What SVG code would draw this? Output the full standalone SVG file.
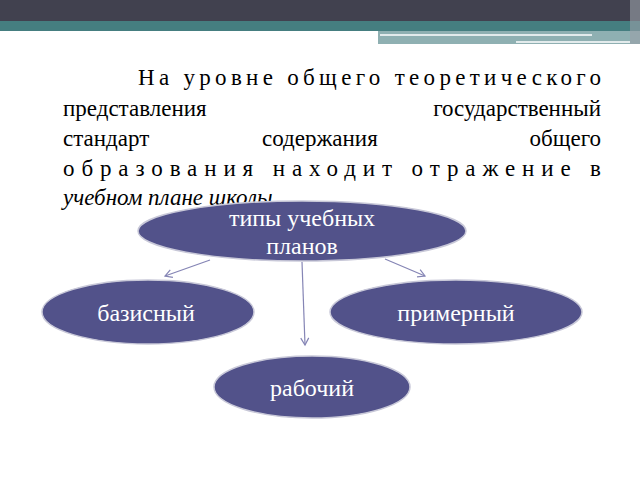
<svg xmlns="http://www.w3.org/2000/svg" width="640" height="480" viewBox="0 0 640 480">
<defs>
<style>
.p{font-family:"Liberation Serif",serif;font-size:23px;fill:#000}
.n{fill:#52528a;stroke:#c8c8d8;stroke-width:1.5}
.t{font-family:"Liberation Serif",serif;font-size:24px;fill:#fff;text-anchor:middle}
.c{stroke:#8585b5;stroke-width:1.2;fill:none;marker-end:url(#a)}
</style>
<marker id="a" markerWidth="10" markerHeight="10" refX="8" refY="5" orient="auto" markerUnits="userSpaceOnUse"><path d="M1,1 L8,5 L1,9" fill="none" stroke="#8585b5" stroke-width="1.2"/></marker>
</defs>
<rect width="640" height="480" fill="#fff"/>
<rect x="0" y="0" width="640" height="22" fill="#41414f"/>
<rect x="0" y="21" width="640" height="10" fill="#457e80"/>
<rect x="378" y="31" width="262" height="13" fill="#8fb0b2"/>
<line x1="380" y1="35" x2="592" y2="35" stroke="#fff" stroke-width="1.5"/>
<line x1="516" y1="42" x2="630" y2="42" stroke="#fff" stroke-width="1.5"/>
<rect x="630" y="0" width="10" height="44" fill="#9aa0a8" opacity="0.6"/>
<g id="paragraph">
<text class="p" x="138" y="85" textLength="463" lengthAdjust="spacing">На уровне общего теоретического</text>
<text class="p" x="63" y="116">представления</text>
<text class="p" x="601" y="116" text-anchor="end">государственный</text>
<text class="p" x="63" y="146">стандарт</text>
<text class="p" x="262" y="146">содержания</text>
<text class="p" x="601" y="146" text-anchor="end">общего</text>
<text class="p" x="63" y="176" textLength="538" lengthAdjust="spacing">образования находит отражение в</text>
<text class="p" x="63" y="205" font-style="italic">учебном плане школы.</text>
</g>
<g id="connectors">
<line class="c" x1="210" y1="260" x2="165" y2="276"/>
<line class="c" x1="385" y1="259" x2="425" y2="276"/>
<line class="c" x1="302" y1="262" x2="305" y2="345"/>
</g>
<g id="n-types"><ellipse class="n" cx="302" cy="231" rx="164" ry="30"/><text class="t" x="302" y="226">типы учебных</text><text class="t" x="302" y="254">планов</text></g>
<g id="n-basic"><ellipse class="n" cx="148" cy="312" rx="106" ry="32"/><text class="t" x="146" y="321">базисный</text></g>
<g id="n-sample"><ellipse class="n" cx="456" cy="312" rx="126" ry="32"/><text class="t" x="456" y="321">примерный</text></g>
<g id="n-work"><ellipse class="n" cx="312" cy="387" rx="98" ry="31"/><text class="t" x="312" y="396">рабочий</text></g>
</svg>
